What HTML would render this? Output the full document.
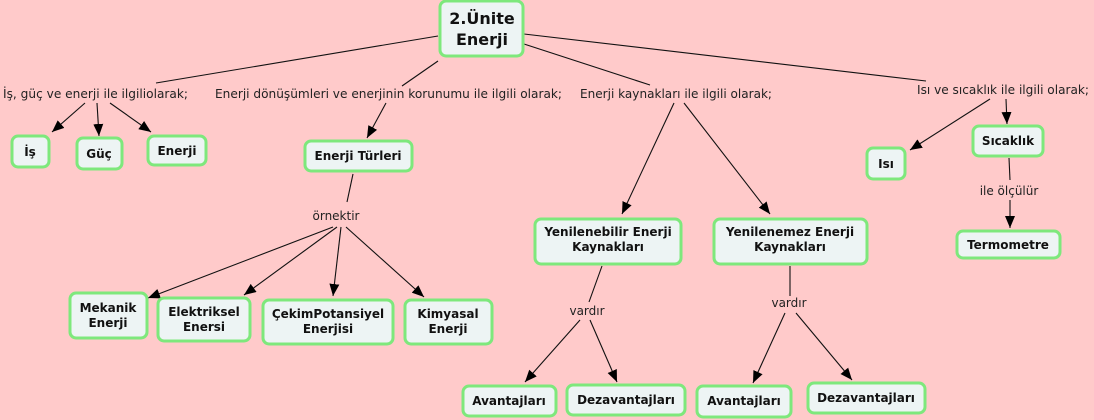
<!DOCTYPE html>
<html><head><meta charset="utf-8"><style>
html,body{margin:0;padding:0;background:#ffcaca;}
svg{display:block}
.n{fill:#edf4f4;stroke:#7ee87c;stroke-width:3}
.t{font-family:"DejaVu Sans","Liberation Sans",sans-serif;font-weight:bold;font-size:12px;fill:#111;text-anchor:middle}
.l{font-family:"DejaVu Sans","Liberation Sans",sans-serif;font-size:12px;fill:#222}
line{stroke:#111;stroke-width:1.1}
</style></head><body>
<svg width="1094" height="420" viewBox="0 0 1094 420" xmlns="http://www.w3.org/2000/svg">
<defs><marker id="a" markerWidth="12" markerHeight="10" refX="12" refY="5" orient="auto" markerUnits="userSpaceOnUse"><path d="M0,0 L12,5 L0,10 z" fill="#000"/></marker></defs>
<rect width="1094" height="420" fill="#ffcaca"/>
<line x1="438" y1="36" x2="156" y2="83"/>
<line x1="438" y1="61" x2="402" y2="86"/>
<line x1="524" y1="34" x2="926" y2="81"/>
<line x1="524" y1="44" x2="650" y2="85"/>
<line x1="85" y1="103" x2="52" y2="132" marker-end="url(#a)"/>
<line x1="97" y1="103" x2="99" y2="136" marker-end="url(#a)"/>
<line x1="110" y1="103" x2="151" y2="132" marker-end="url(#a)"/>
<line x1="386" y1="103" x2="367" y2="138" marker-end="url(#a)"/>
<line x1="353" y1="174" x2="347" y2="202"/>
<line x1="333" y1="227" x2="148" y2="298" marker-end="url(#a)"/>
<line x1="337" y1="227" x2="244" y2="295" marker-end="url(#a)"/>
<line x1="341" y1="227" x2="333" y2="296" marker-end="url(#a)"/>
<line x1="346" y1="227" x2="424" y2="297" marker-end="url(#a)"/>
<line x1="674" y1="103" x2="622" y2="214" marker-end="url(#a)"/>
<line x1="684" y1="103" x2="770" y2="214" marker-end="url(#a)"/>
<line x1="990" y1="99" x2="910" y2="150" marker-end="url(#a)"/>
<line x1="1006" y1="99" x2="1007" y2="124" marker-end="url(#a)"/>
<line x1="1009" y1="158" x2="1010" y2="180"/>
<line x1="1010" y1="200" x2="1010" y2="228" marker-end="url(#a)"/>
<line x1="602" y1="266" x2="589" y2="302"/>
<line x1="580" y1="320" x2="525" y2="382" marker-end="url(#a)"/>
<line x1="590" y1="320" x2="617" y2="382" marker-end="url(#a)"/>
<line x1="790" y1="266" x2="790" y2="296"/>
<line x1="785" y1="313" x2="753" y2="383" marker-end="url(#a)"/>
<line x1="796" y1="313" x2="852" y2="380" marker-end="url(#a)"/>
<text class="l" x="3" y="98" textLength="185" lengthAdjust="spacingAndGlyphs">İş, güç ve enerji ile ilgiliolarak;</text>
<text class="l" x="215" y="98" textLength="347" lengthAdjust="spacingAndGlyphs">Enerji dönüşümleri ve enerjinin korunumu ile ilgili olarak;</text>
<text class="l" x="580" y="98" textLength="192" lengthAdjust="spacingAndGlyphs">Enerji kaynakları ile ilgili olarak;</text>
<text class="l" x="917" y="94" textLength="172" lengthAdjust="spacingAndGlyphs">Isı ve sıcaklık ile ilgili olarak;</text>
<text class="l" x="336" y="220" text-anchor="middle">örnektir</text>
<text class="l" x="587" y="315" text-anchor="middle">vardır</text>
<text class="l" x="789" y="307" text-anchor="middle">vardır</text>
<text class="l" x="1009" y="195" text-anchor="middle">ile ölçülür</text>
<rect class="n" x="440" y="1" width="83" height="55" rx="6"/>
<text class="t" style="font-size:16px" x="482" y="24">2.Ünite</text>
<text class="t" style="font-size:16px" x="482" y="45">Enerji</text>
<rect class="n" x="12" y="136" width="37" height="31" rx="6"/><text class="t" x="30" y="156">İş</text>
<rect class="n" x="77" y="138" width="45" height="31" rx="6"/><text class="t" x="99" y="158">Güç</text>
<rect class="n" x="148" y="136" width="58" height="29" rx="6"/><text class="t" x="177" y="155">Enerji</text>
<rect class="n" x="305" y="141" width="107" height="30" rx="6"/><text class="t" x="358" y="160">Enerji Türleri</text>
<rect class="n" x="70" y="293" width="77" height="45" rx="6"/><text class="t" x="108" y="312">Mekanik</text><text class="t" x="108" y="327">Enerji</text>
<rect class="n" x="158" y="298" width="92" height="43" rx="6"/><text class="t" x="204" y="316">Elektriksel</text><text class="t" x="204" y="331">Enersi</text>
<rect class="n" x="263" y="300" width="130" height="44" rx="6"/><text class="t" x="328" y="318">ÇekimPotansiyel</text><text class="t" x="328" y="333">Enerjisi</text>
<rect class="n" x="405" y="300" width="87" height="44" rx="6"/><text class="t" x="448" y="318">Kimyasal</text><text class="t" x="448" y="333">Enerji</text>
<rect class="n" x="535" y="219" width="146" height="45" rx="6"/><text class="t" x="608" y="236">Yenilenebilir Enerji</text><text class="t" x="608" y="251">Kaynakları</text>
<rect class="n" x="714" y="219" width="153" height="45" rx="6"/><text class="t" x="790" y="236">Yenilenemez Enerji</text><text class="t" x="790" y="251">Kaynakları</text>
<rect class="n" x="463" y="386" width="93" height="30" rx="6"/><text class="t" x="509" y="405">Avantajları</text>
<rect class="n" x="567" y="385" width="118" height="30" rx="6"/><text class="t" x="626" y="404">Dezavantajları</text>
<rect class="n" x="697" y="386" width="94" height="31" rx="6"/><text class="t" x="744" y="405">Avantajları</text>
<rect class="n" x="808" y="383" width="117" height="30" rx="6"/><text class="t" x="866" y="402">Dezavantajları</text>
<rect class="n" x="867" y="148" width="38" height="31" rx="6"/><text class="t" x="886" y="168">Isı</text>
<rect class="n" x="973" y="126" width="70" height="30" rx="6"/><text class="t" x="1008" y="145">Sıcaklık</text>
<rect class="n" x="957" y="231" width="103" height="27" rx="6"/><text class="t" x="1008" y="249">Termometre</text>
</svg>
</body></html>
